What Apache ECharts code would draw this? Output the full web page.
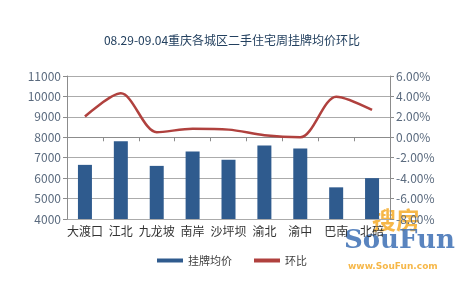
<!DOCTYPE html>
<html><head><meta charset="utf-8">
<script src="https://cdn.jsdelivr.net/npm/echarts@6/dist/echarts.min.js"></script>
<style>html,body{margin:0;padding:0;background:#fff}#c{width:464px;height:283px}</style>
</head><body><div id="c"></div>
<script>
const titleText = '08.29-09.04重庆各城区二手住宅周挂牌均价环比';
const categories = ['大渡口','江北','九龙坡','南岸','沙坪坝','渝北','渝中','巴南','北碚'];
const avgPrice = [6650, 7800, 6600, 7300, 6900, 7600, 7450, 5550, 6000];
const momChange = [2.03, 4.3, 0.5, 0.83, 0.75, 0.2, 0.0, 3.98, 2.68];
const leftTicks = {min: 4000, max: 11000, interval: 1000};
const rightTicks = {min: -8, max: 6, interval: 2};

const font = '"Noto Sans CJK SC", sans-serif';
const chart = echarts.init(document.getElementById('c'));
chart.setOption({
  animation: false,
  title: {text: titleText, left: 'center', top: 29,
    textStyle: {fontFamily: font, fontSize: 12, fontWeight: 'normal', color: '#23405F'}},
  grid: {left: 67, right: 74, top: 76, bottom: 64},
  legend: {bottom: 12, left: 'center', itemWidth: 26, itemHeight: 4, itemGap: 22,
    textStyle: {fontFamily: font, fontSize: 11, color: '#404040'},
    data: [{name: '挂牌均价', icon: 'rect'}, {name: '环比', icon: 'rect'}]},
  xAxis: {type: 'category', data: categories, boundaryGap: true,
    axisLine: {lineStyle: {color: '#8C8C8C'}},
    axisTick: {show: true, alignWithLabel: false, length: 4, lineStyle: {color: '#8C8C8C'}},
    axisLabel: {fontFamily: font, fontSize: 12, color: '#333', margin: 6, interval: 0}},
  yAxis: [
    {type: 'value', min: leftTicks.min, max: leftTicks.max, interval: leftTicks.interval,
      axisLine: {show: true, lineStyle: {color: '#8C8C8C'}},
      axisTick: {show: true, length: 4, lineStyle: {color: '#8C8C8C'}},
      splitLine: {lineStyle: {color: '#ABABAB'}},
      axisLabel: {fontFamily: font, fontSize: 12, color: '#5A6A7E', margin: 6,
        formatter: v => String(v)}},
    {type: 'value', min: rightTicks.min, max: rightTicks.max, interval: rightTicks.interval,
      position: 'right',
      axisLine: {show: true, lineStyle: {color: '#8C8C8C'}},
      axisTick: {show: true, length: 4, lineStyle: {color: '#8C8C8C'}},
      splitLine: {show: false},
      axisLabel: {fontFamily: font, fontSize: 12, color: '#5A6A7E', margin: 6,
        formatter: v => v.toFixed(2) + '%'}}
  ],
  series: [
    {name: '挂牌均价', type: 'bar', data: avgPrice, barWidth: 14, yAxisIndex: 0,
      itemStyle: {color: '#2F5B8E'}},
    {name: '环比', type: 'line', data: momChange, yAxisIndex: 1, smooth: 0.3,
      showSymbol: false, symbol: 'none', lineStyle: {color: '#B0413E', width: 2.5},
      itemStyle: {color: '#B0413E'}}
  ],
  graphic: [
    {type: 'text', left: 372, top: 208, silent: true,
      style: {text: '搜房', fontFamily: font, fontSize: 24, fontWeight: 'bold', fill: 'rgba(245,170,40,0.85)'}},
    {type: 'text', left: 344, top: 228, silent: true,
      style: {text: 'SouFun', fontFamily: 'DejaVu Serif, serif', fontSize: 26, fontWeight: 'bold', fill: 'rgba(60,110,180,0.85)'}},
    {type: 'text', left: 348, top: 262, silent: true,
      style: {text: 'www.SouFun.com', fontFamily: 'DejaVu Sans, sans-serif', fontSize: 9, fontWeight: 'bold', fill: 'rgba(245,170,40,0.85)'}}
  ]
});
</script></body></html>
